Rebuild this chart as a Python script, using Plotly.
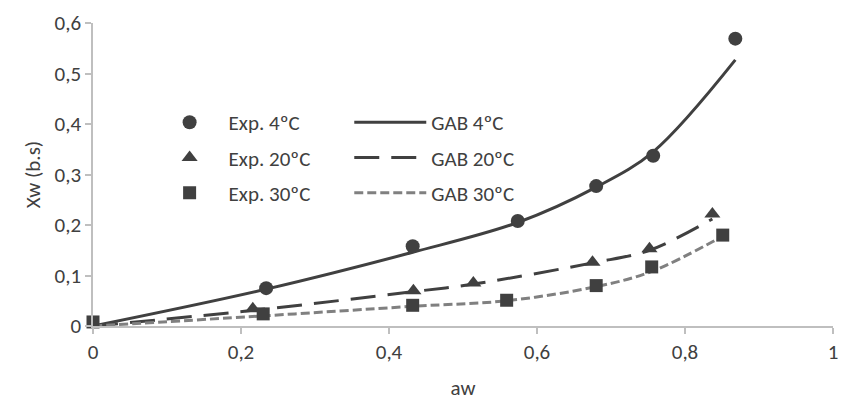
import plotly.graph_objects as go

# Experimental data
aw_4 = [0.234, 0.432, 0.574, 0.680, 0.757, 0.868]
xw_4 = [0.075, 0.158, 0.208, 0.277, 0.337, 0.569]
aw_20 = [0.216, 0.433, 0.514, 0.675, 0.752, 0.837]
xw_20 = [0.034, 0.070, 0.085, 0.126, 0.153, 0.222]
aw_30 = [0.0, 0.230, 0.432, 0.559, 0.680, 0.755, 0.851]
xw_30 = [0.008, 0.024, 0.041, 0.051, 0.080, 0.117, 0.180]

# GAB model curves
gab_aw_4 = [0.0, 0.234, 0.432, 0.574, 0.680, 0.757, 0.868]
gab_xw_4 = [0.0, 0.073, 0.146, 0.205, 0.275, 0.345, 0.527]
gab_aw_20 = [0.0, 0.216, 0.433, 0.514, 0.675, 0.752, 0.837]
gab_xw_20 = [0.0, 0.031, 0.068, 0.083, 0.125, 0.150, 0.212]
gab_aw_30 = [0.0, 0.230, 0.432, 0.559, 0.680, 0.755, 0.851]
gab_xw_30 = [0.0, 0.020, 0.039, 0.050, 0.078, 0.108, 0.178]

x_ticks = [0, 0.2, 0.4, 0.6, 0.8, 1]
y_ticks = [0, 0.1, 0.2, 0.3, 0.4, 0.5, 0.6]

DARK = "#404040"
GRAY = "#808080"
FONT = "Carlito, Lato, sans-serif"
FS = 21

fig = go.Figure()

# lines first (drawn below markers)
fig.add_trace(go.Scatter(x=gab_aw_4, y=gab_xw_4, mode="lines", name="GAB 4ºC",
                         line=dict(color=DARK, width=3, shape="spline"),
                         legend="legend2", legendgroup="g1"))
fig.add_trace(go.Scatter(x=gab_aw_20, y=gab_xw_20, mode="lines", name="GAB 20ºC",
                         line=dict(color=DARK, width=3, shape="spline", dash="25px,12px"),
                         legend="legend2", legendgroup="g2"))
fig.add_trace(go.Scatter(x=gab_aw_30, y=gab_xw_30, mode="lines", name="GAB 30ºC",
                         line=dict(color=GRAY, width=3, shape="spline", dash="9px,4px"),
                         legend="legend2", legendgroup="g3"))

fig.add_trace(go.Scatter(x=aw_4, y=xw_4, mode="markers", name="Exp. 4ºC",
                         marker=dict(symbol="circle", size=14, color=DARK),
                         cliponaxis=False, legend="legend", legendgroup="m1"))
fig.add_trace(go.Scatter(x=aw_20, y=xw_20, mode="markers", name="Exp. 20ºC",
                         marker=dict(symbol="triangle-up", size=14, color=DARK),
                         cliponaxis=False, legend="legend", legendgroup="m2"))
fig.add_trace(go.Scatter(x=aw_30, y=xw_30, mode="markers", name="Exp. 30ºC",
                         marker=dict(symbol="square", size=13, color=DARK),
                         cliponaxis=False, legend="legend", legendgroup="m3"))

axis_common = dict(showgrid=False, zeroline=False, showline=True,
                   linecolor="#bfbfbf", linewidth=1.5, ticks="outside",
                   ticklen=6, tickcolor="#bfbfbf", tickwidth=1.5,
                   tickfont=dict(family=FONT, size=FS, color=DARK))

fig.update_layout(
    width=846, height=404,
    margin=dict(l=93, r=8, t=23, b=77),
    plot_bgcolor="white", paper_bgcolor="white",
    separators=", ",
    showlegend=True,
    xaxis=dict(range=[0, 1], tickvals=x_ticks,
               title=dict(text="aw", font=dict(family=FONT, size=FS, color=DARK), standoff=16),
               **axis_common),
    yaxis=dict(range=[0, 0.6], tickvals=y_ticks,
               title=dict(text="Xw (b.s)", font=dict(family=FONT, size=FS, color=DARK), standoff=8),
               **axis_common),
    legend=dict(x=(151 - 93) / 745, xanchor="left", y=0.556, yanchor="middle",
                font=dict(family=FONT, size=FS, color=DARK), bgcolor="rgba(0,0,0,0)",
                itemwidth=68, tracegroupgap=5),
    legend2=dict(x=(351 - 93) / 745, xanchor="left", y=0.556, yanchor="middle",
                 font=dict(family=FONT, size=FS, color=DARK), bgcolor="rgba(0,0,0,0)",
                 itemwidth=72, tracegroupgap=5),
)

fig.write_html("out.html")
